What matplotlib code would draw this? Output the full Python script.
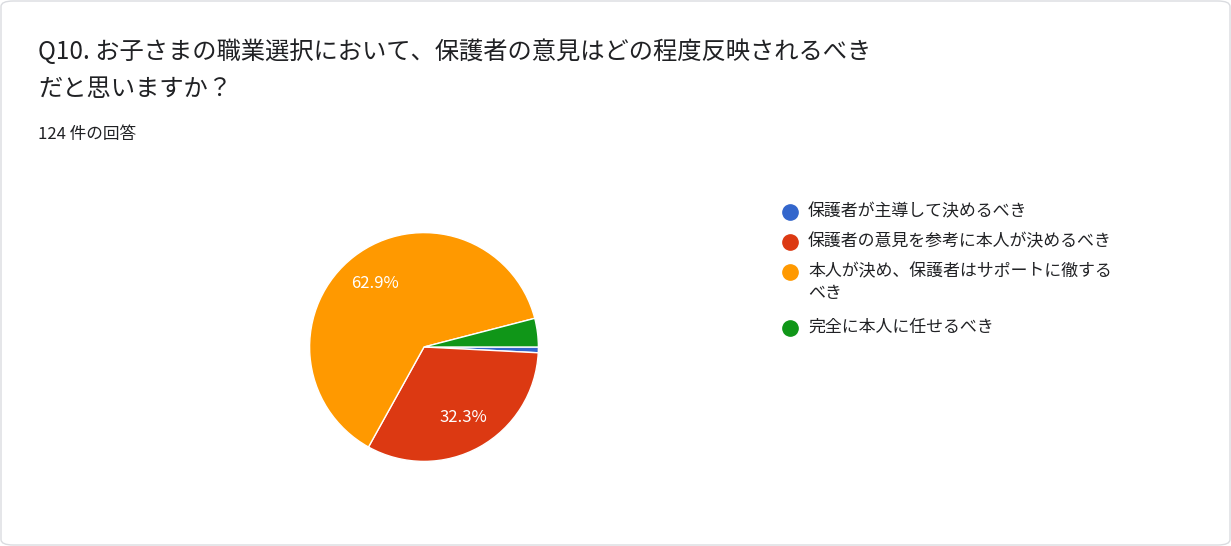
import matplotlib
matplotlib.use("Agg")
import matplotlib.pyplot as plt
from matplotlib.patches import FancyBboxPatch
from matplotlib.lines import Line2D

plt.rcParams['font.family'] = ['Noto Sans CJK JP', 'DejaVu Sans']

labels = ["保護者が主導して決めるべき", "保護者の意見を参考に本人が決めるべき",
          "本人が決め、保護者はサポートに徹する\nべき", "完全に本人に任せるべき"]
counts = [1, 40, 78, 5]
colors = ["#3366cc", "#dc3912", "#ff9900", "#109618"]
title = "Q10. お子さまの職業選択において、保護者の意見はどの程度反映されるべき\nだと思いますか？"
subtitle = "124 件の回答"

W, H = 1231, 546
fig = plt.figure(figsize=(W/100, H/100), dpi=100)
box = FancyBboxPatch((1/W, 1/H), 1-2/W, 1-2/H, boxstyle="round,pad=0,rounding_size=0.01",
                     transform=fig.transFigure, fc="white", ec="#dadce0", lw=1, zorder=-10)
fig.patches.append(box)

fig.text(38/W, 1-70/H, title, fontsize=17.5, color="#202124", va="center", linespacing=1.55)
fig.text(38/W, 1-135/H, subtitle, fontsize=12, color="#202124", va="center")

cx, cy, r = 424/W, 1-347/H, 143
ax = fig.add_axes([cx - r/W, cy - r/H, 2*r/W, 2*r/H], zorder=5)
ax.pie(counts, colors=colors, startangle=0, counterclock=False,
       wedgeprops=dict(edgecolor="white", linewidth=1),
       autopct=lambda p: f"{p:.1f}%" if p > 5 else "", pctdistance=0.7,
       textprops=dict(color="white", fontsize=12))
ax.set_aspect("equal")
ax.axis("off")

ys = [212, 242, 272, 328]
for lab, col, y in zip(labels, colors, ys):
    fig.lines.append(Line2D([790/W], [1-y/H], marker="o", markersize=11, color=col,
                            transform=fig.transFigure, linestyle="none", zorder=6))
    fig.text(808/W, 1-(y-10)/H, lab, fontsize=12.2, color="#202124", va="top", linespacing=1.3)

fig.savefig("out.png", dpi=100)
